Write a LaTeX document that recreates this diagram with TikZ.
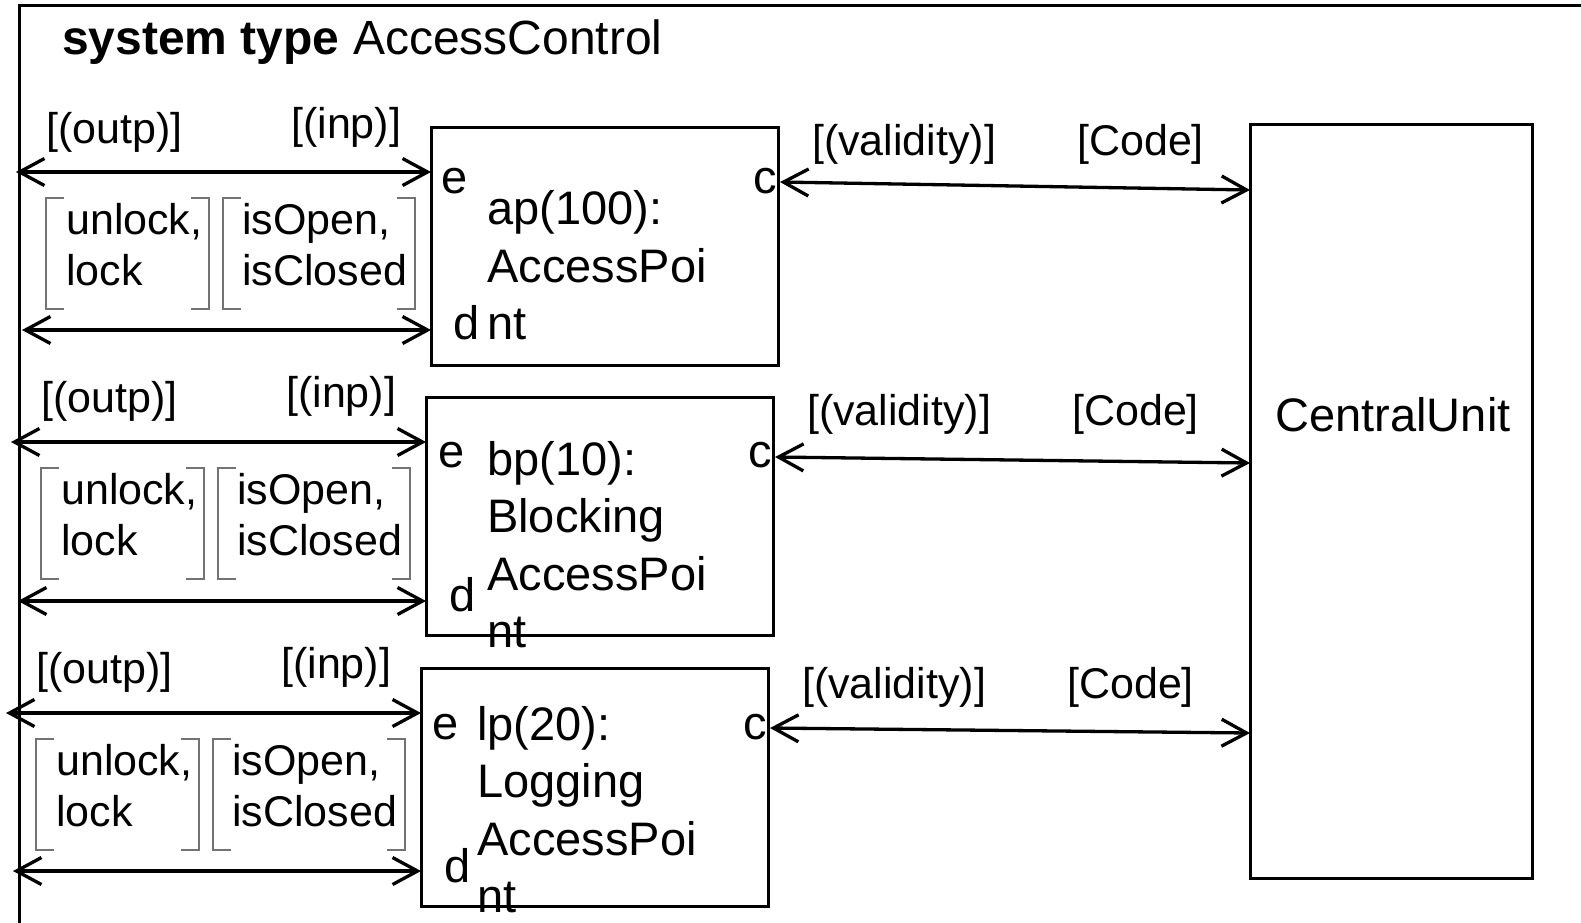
\documentclass[tikz,border=0pt]{standalone}
\usepackage{fontspec}
\setmainfont{Liberation Sans}
\usetikzlibrary{arrows.meta}

\begin{document}
\begin{tikzpicture}[x=1pt,y=-1pt,
  frame/.style={line width=3pt},
  box/.style={draw, line width=3pt, inner sep=0pt, outer sep=0pt, anchor=north west},
  conn/.style={line width=3.3pt,
    {Straight Barb[length=25pt,width=27pt]}-{Straight Barb[length=25pt,width=27pt]}},
  lbl/.style={inner sep=0pt, anchor=base west, font=\fontsize{43}{51}\selectfont},
  txt/.style={inner sep=0pt, anchor=base west, font=\fontsize{47}{57.5}\selectfont},
  brkline/.style={line width=1.3pt, black!55},
  title/.style={inner sep=0pt, anchor=base west, font=\fontsize{48}{56}\selectfont}
]
\useasboundingbox (0,0) rectangle (1581,922);

% enclosing system frame (open to the right and bottom)
\draw[frame] (1600,5) -- (19,5) -- (19,940);
\node[title] (ttl) at (62,54) {\textbf{system type} AccessControl};

% central unit
\node[box, minimum width=282pt, minimum height=754pt] (cu) at (1250,124) {};
\node[inner sep=0pt, font=\fontsize{47}{57}\selectfont] (cut) at (1393,415) {CentralUnit};

% ---------- row 1 : ap ----------
\node[box, minimum width=347pt, minimum height=238pt] (b1) at (431,127) {};
\node[txt] (b1t1) at (487,224) {ap(100):};
\node[txt] (b1t2) at (487,282) {AccessPoi};
\node[txt] (b1t3) at (487,339) {nt};
\node[txt] (b1e) at (441,193) {e};
\node[txt, anchor=base east] (b1c) at (777,193) {c};
\node[txt] (b1d) at (453,339) {d};
\node[lbl] (o1) at (46,143) {[(outp)]};
\node[lbl] (i1) at (291,138) {[(inp)]};
\node[lbl] (s1a) at (66,234) {unlock,};
\node[lbl] (s1b) at (66,285) {lock};
\node[lbl] (r1a) at (242,234) {isOpen,};
\node[lbl] (r1b) at (242,285) {isClosed};
\draw[brkline] (64,198) -- (46,198) -- (46,309) -- (64,309);
\draw[brkline] (191,198) -- (209,198) -- (209,309) -- (191,309);
\draw[brkline] (241,198) -- (223,198) -- (223,309) -- (241,309);
\draw[brkline] (397,198) -- (415,198) -- (415,309) -- (397,309);
\coordinate (e1) at (16,172);
\coordinate (d1) at (22,330);
\draw[conn] (e1) -- (e1 -| b1.west);
\draw[conn] (d1) -- (d1 -| b1.west);
\coordinate (c1) at (780,182);
\coordinate (k1) at (0,190);
\draw[conn] (c1) -- (cu.west |- k1);
\node[lbl] (v1) at (812,155) {[(validity)]};
\node[lbl] (q1) at (1077,155) {[Code]};

% ---------- row 2 : bp ----------
\node[box, minimum width=347pt, minimum height=238pt] (b2) at (426,397) {};
\node[txt] (b2t1) at (487,475) {bp(10):};
\node[txt] (b2t2) at (487,532) {Blocking};
\node[txt] (b2t3) at (487,590) {AccessPoi};
\node[txt] (b2t4) at (487,647) {nt};
\node[txt] (b2e) at (438,467) {e};
\node[txt, anchor=base east] (b2c) at (772,467) {c};
\node[txt] (b2d) at (449,611) {d};
\node[lbl] (o2) at (41,412) {[(outp)]};
\node[lbl] (i2) at (286,407) {[(inp)]};
\node[lbl] (s2a) at (61,504) {unlock,};
\node[lbl] (s2b) at (61,555) {lock};
\node[lbl] (r2a) at (237,504) {isOpen,};
\node[lbl] (r2b) at (237,555) {isClosed};
\draw[brkline] (59,468) -- (41,468) -- (41,579) -- (59,579);
\draw[brkline] (186,468) -- (204,468) -- (204,579) -- (186,579);
\draw[brkline] (236,468) -- (218,468) -- (218,579) -- (236,579);
\draw[brkline] (392,468) -- (410,468) -- (410,579) -- (392,579);
\coordinate (e2) at (11,442);
\coordinate (d2) at (18,601);
\draw[conn] (e2) -- (e2 -| b2.west);
\draw[conn] (d2) -- (d2 -| b2.west);
\coordinate (c2) at (775,457);
\coordinate (k2) at (0,463);
\draw[conn] (c2) -- (cu.west |- k2);
\node[lbl] (v2) at (807,425) {[(validity)]};
\node[lbl] (q2) at (1072,425) {[Code]};

% ---------- row 3 : lp ----------
\node[box, minimum width=347pt, minimum height=238pt] (b3) at (421,668) {};
\node[txt] (b3t1) at (477,740) {lp(20):};
\node[txt] (b3t2) at (477,797) {Logging};
\node[txt] (b3t3) at (477,855) {AccessPoi};
\node[txt] (b3t4) at (477,912) {nt};
\node[txt] (b3e) at (432,739) {e};
\node[txt, anchor=base east] (b3c) at (767,739) {c};
\node[txt] (b3d) at (444,882) {d};
\node[lbl] (o3) at (36,683) {[(outp)]};
\node[lbl] (i3) at (281,678) {[(inp)]};
\node[lbl] (s3a) at (56,775) {unlock,};
\node[lbl] (s3b) at (56,826) {lock};
\node[lbl] (r3a) at (232,775) {isOpen,};
\node[lbl] (r3b) at (232,826) {isClosed};
\draw[brkline] (54,739) -- (36,739) -- (36,850) -- (54,850);
\draw[brkline] (181,739) -- (199,739) -- (199,850) -- (181,850);
\draw[brkline] (231,739) -- (213,739) -- (213,850) -- (231,850);
\draw[brkline] (387,739) -- (405,739) -- (405,850) -- (387,850);
\coordinate (e3) at (6,713);
\coordinate (d3) at (13,871);
\draw[conn] (e3) -- (e3 -| b3.west);
\draw[conn] (d3) -- (d3 -| b3.west);
\coordinate (c3) at (770,728);
\coordinate (k3) at (0,733);
\draw[conn] (c3) -- (cu.west |- k3);
\node[lbl] (v3) at (802,698) {[(validity)]};
\node[lbl] (q3) at (1067,698) {[Code]};
\end{tikzpicture}
\end{document}
